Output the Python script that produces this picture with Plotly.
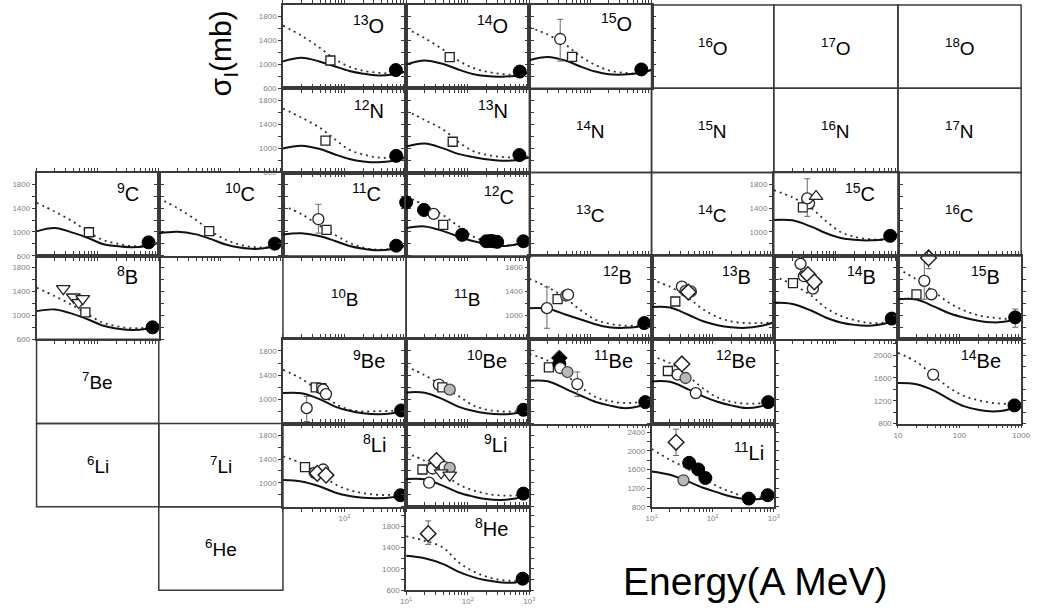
import plotly.graph_objects as go

# ---------------- data ----------------
E_GRID = [10, 20, 40, 70, 120, 200, 350, 600, 1000]

O13_SOLID = [1050, 1110, 1045, 965, 890, 845, 815, 830, 880]
O13_DOT = [1650, 1480, 1275, 1085, 960, 895, 860, 850, 885]
O13_PTS = [(59, 1065, "sq"), (680, 905, "fc")]

O14_SOLID = [1000, 1065, 1005, 915, 840, 805, 795, 810, 860]
O14_DOT = [1600, 1440, 1245, 1065, 945, 880, 840, 830, 865]
O14_PTS = [(51, 1120, "sq"), (700, 880, "fc")]

O15_SOLID = [1070, 1125, 1060, 960, 880, 835, 830, 850, 905]
O15_DOT = [1620, 1500, 1320, 1130, 990, 900, 860, 850, 915]
O15_PTS = [(32, 1425, "oc", 330, 370), (50, 1126, "sq"), (680, 915, "fc")]

N12_SOLID = [1000, 1045, 990, 900, 825, 785, 770, 790, 850]
N12_DOT = [1660, 1510, 1340, 1150, 975, 900, 850, 845, 870]
N12_PTS = [(49, 1130, "sq"), (690, 877, "fc")]

N13_SOLID = [1030, 1080, 1000, 910, 860, 820, 795, 805, 850]
N13_DOT = [1625, 1470, 1310, 1110, 960, 895, 860, 850, 870]
N13_PTS = [(57, 1110, "sq"), (690, 890, "fc")]

C9_SOLID = [1010, 1065, 985, 900, 800, 765, 745, 760, 820]
C9_DOT = [1490, 1340, 1170, 1000, 870, 810, 765, 765, 805]
C9_PTS = [(72, 996, "sq"), (680, 827, "fc")]

C10_SOLID = [980, 1005, 960, 880, 790, 740, 716, 740, 810]
C10_DOT = [1565, 1400, 1200, 1010, 870, 790, 745, 750, 805]
C10_PTS = [(65, 1016, "sq"), (740, 805, "fc")]

C11_SOLID = [960, 978, 930, 850, 765, 720, 694, 715, 775]
C11_DOT = [1440, 1300, 1100, 950, 820, 740, 705, 720, 775]
C11_PTS = [(37.6, 1214, "oc", 250, 232), (51, 1037, "sq"), (690, 771, "fc")]

C12_SOLID = [1065, 1093, 1015, 925, 850, 800, 765, 790, 860]
C12_DOT = [1590, 1450, 1280, 1100, 930, 840, 785, 790, 860]
C12_PTS = [(10, 1496, "fc"), (19.5, 1369, "fc"), (28, 1303, "oc"), (40, 1120, "sq"),
           (81, 953, "fc"), (200, 845, "fc"), (235, 850, "fc"), (258, 845, "fc"),
           (300, 835, "fc"), (800, 845, "fc")]

C15_SOLID = [1203, 1195, 1090, 980, 900, 870, 860, 880, 960]
C15_DOT = [1700, 1580, 1400, 1180, 1000, 920, 880, 880, 960]
C15_PTS = [(37, 1480, "oc"), (29.5, 1414, "sq"), (34.6, 1562, "oc", 330, 300),
           (48, 1595, "tu"), (750, 936, "fc")]

B8_SOLID = [1070, 1098, 1020, 930, 830, 780, 755, 770, 840]
B8_DOT = [1462, 1320, 1160, 1010, 880, 820, 785, 790, 820]
B8_PTS = [(63, 1050, "sq"), (27.4, 1446, "td"), (40, 1307, "td"), (49, 1214, "td"),
          (57, 1280, "td"), (790, 799, "fc")]

B12_SOLID = [1120, 1110, 1010, 930, 850, 800, 790, 810, 870]
B12_DOT = [1613, 1470, 1280, 1080, 930, 860, 827, 830, 855]
B12_PTS = [(19.4, 1120, "oc", 355, 337), (29, 1270, "sq"), (40, 1330, "gc"),
           (43, 1345, "oc"), (760, 870, "fc")]

B13_SOLID = [1138, 1130, 1010, 900, 835, 800, 790, 820, 880]
B13_DOT = [1590, 1480, 1290, 1100, 970, 900, 870, 870, 880]
B13_PTS = [(24.5, 1231, "sq"), (31.4, 1480, "oc"), (36, 1410, "gc"),
           (44, 1400, "gc"), (40, 1390, "dm")]

B14_SOLID = [1214, 1190, 1080, 960, 880, 840, 827, 860, 940]
B14_DOT = [1655, 1520, 1330, 1120, 990, 920, 870, 880, 940]
B14_PTS = [(20.4, 1540, "sq"), (27, 1862, "oc", 140, 210), (30.6, 1655, "oc"),
           (42.7, 1446, "oc"), (35.5, 1683, "dm"), (45, 1560, "dm"), (795, 945, "fc")]

B15_SOLID = [1270, 1265, 1140, 1030, 960, 910, 882, 900, 980]
B15_DOT = [1780, 1600, 1380, 1200, 1080, 1000, 960, 940, 940]
B15_PTS = [(20, 1352, "sq"), (26.8, 1577, "oc", 356, 308), (31.4, 1960, "dm", 180, 180),
           (35, 1352, "oc"), (800, 965, "fc", 140, 165)]

BE9_SOLID = [1104, 1100, 1000, 880, 810, 770, 754, 770, 830]
BE9_DOT = [1490, 1340, 1120, 930, 830, 800, 805, 810, 830]
BE9_PTS = [(24.3, 854, "oc", 194, 221), (34, 1198, "sq"), (42, 1186, "sq"),
           (45, 1160, "oc"), (50, 1087, "oc"), (830, 816, "fc")]

BE10_SOLID = [1115, 1110, 1000, 880, 810, 770, 754, 770, 840]
BE10_DOT = [1545, 1400, 1210, 1060, 905, 830, 800, 800, 840]
BE10_PTS = [(34, 1245, "oc"), (38.7, 1198, "sq"), (51, 1160, "gc"), (800, 827, "fc")]

BE11_SOLID = [1308, 1300, 1170, 1060, 960, 900, 855, 880, 966]
BE11_DOT = [1750, 1640, 1400, 1200, 1040, 975, 940, 950, 985]
BE11_PTS = [(20.9, 1530, "sq"), (31, 1685, "fd"), (31, 1586, "fc"), (32, 1519, "oc"),
            (42, 1452, "gc"), (61, 1253, "oc", 200, 205), (790, 954, "fc")]

BE12_SOLID = [1297, 1290, 1165, 1050, 960, 900, 855, 880, 955]
BE12_DOT = [1712, 1600, 1380, 1180, 1030, 960, 930, 935, 955]
BE12_PTS = [(18.5, 1469, "sq"), (26.7, 1408, "oc"), (36, 1353, "gc", 60, 60),
            (31.4, 1586, "dm"), (53, 1104, "oc"), (810, 954, "fc")]

BE14_SOLID = [1511, 1490, 1370, 1220, 1100, 1040, 1012, 1040, 1150]
BE14_DOT = [2040, 1880, 1620, 1420, 1280, 1210, 1160, 1145, 1140]
BE14_PTS = [(37.3, 1659, "oc", 60, 60), (780, 1118, "fc")]

LI8_SOLID = [1048, 1025, 940, 840, 780, 750, 744, 760, 800]
LI8_DOT = [1446, 1330, 1150, 980, 880, 830, 800, 800, 810]
LI8_PTS = [(22.8, 1264, "sq"), (33, 1170, "oc"), (45, 1225, "oc"), (36, 1160, "dm"),
           (50, 1131, "dm"), (810, 794, "fc")]

LI9_SOLID = [1065, 1062, 950, 840, 775, 730, 716, 740, 800]
LI9_DOT = [1500, 1370, 1160, 980, 880, 820, 790, 790, 810]
LI9_PTS = [(18.4, 1225, "sq"), (23.6, 1004, "oc", 30, 40), (26.8, 1242, "oc"),
           (31, 1375, "dm"), (42, 1264, "oc"), (51, 1253, "gc"), (37, 1170, "td"),
           (51, 1131, "td"), (800, 821, "fc")]

LI11_SOLID = [1561, 1490, 1340, 1210, 1110, 1020, 965, 970, 1020]
LI11_DOT = [2044, 1810, 1610, 1420, 1240, 1120, 1010, 1010, 1020]
LI11_PTS = [(25.2, 2187, "dm", 283, 284), (33.3, 1370, "gc"), (41.3, 1745, "fc"),
            (58, 1604, "fc"), (76, 1419, "fc"), (390, 977, "fc"), (795, 1050, "fc")]

HE8_SOLID = [1246, 1200, 1090, 950, 850, 785, 745, 745, 835]
HE8_DOT = [1615, 1530, 1400, 1130, 960, 855, 790, 775, 800]
HE8_PTS = [(22.8, 1665, "dm", 240, 203), (780, 816, "fc")]

X_TICKS = [10, 20, 30, 40, 50, 60, 70, 80, 90, 100, 200, 300, 400, 500, 600, 700, 800, 900, 1000]
Y_LABELS_STD = [1800, 1400, 1000, 600]
Y_LABELS_TOP3 = [1800, 1400, 1000]
Y_LABELS_BE14 = [2000, 1600, 1200, 800]
Y_LABELS_LI11 = [2400, 2000, 1600, 1200, 800]
X_LABELS_SUP = {10: "10<sup>1</sup>", 100: "10<sup>2</sup>", 1000: "10<sup>3</sup>"}
X_LABELS_MID = {100: "10<sup>2</sup>"}
X_LABELS_PLAIN = {10: "10", 100: "100", 1000: "1000"}

# ---------------- layout geometry ----------------
W, H = 1039, 612
COL_X = [31, 155, 281, 406, 531, 655, 779, 905, 1030]
ROW_Y = [5, 89, 174, 258, 342, 427, 511, 595]
Y_RANGES = {"std": (600, 1995), "be14": (800, 2280), "li11": (800, 2590), "he8": (600, 2170)}

# (mass, element, col, row, solid, dotted, points, yrange, ylabels, xlabels, label_dx, label_dy)
PANELS = [
    ("13", "O", 2, 0, O13_SOLID, O13_DOT, O13_PTS, "std", Y_LABELS_STD, None, 20, 20),
    ("14", "O", 3, 0, O14_SOLID, O14_DOT, O14_PTS, "std", None, None, 20, 20),
    ("15", "O", 4, 0, O15_SOLID, O15_DOT, O15_PTS, "std", None, None, 18, 18),
    ("12", "N", 2, 1, N12_SOLID, N12_DOT, N12_PTS, "std", Y_LABELS_STD, None, 20, 21),
    ("13", "N", 3, 1, N13_SOLID, N13_DOT, N13_PTS, "std", None, None, 20, 21),
    ("9", "C", 0, 2, C9_SOLID, C9_DOT, C9_PTS, "std", Y_LABELS_STD, None, 18, 20),
    ("10", "C", 1, 2, C10_SOLID, C10_DOT, C10_PTS, "std", None, None, 26, 20),
    ("11", "C", 2, 2, C11_SOLID, C11_DOT, C11_PTS, "std", None, None, 23, 20),
    ("12", "C", 3, 2, C12_SOLID, C12_DOT, C12_PTS, "std", None, None, 14, 23),
    ("15", "C", 6, 2, C15_SOLID, C15_DOT, C15_PTS, "std", Y_LABELS_TOP3, None, 21, 20),
    ("8", "B", 0, 3, B8_SOLID, B8_DOT, B8_PTS, "std", Y_LABELS_STD, None, 19, 20),
    ("12", "B", 4, 3, B12_SOLID, B12_DOT, B12_PTS, "std", Y_LABELS_TOP3, None, 18, 20),
    ("13", "B", 5, 3, B13_SOLID, B13_DOT, B13_PTS, "std", None, None, 21, 20),
    ("14", "B", 6, 3, B14_SOLID, B14_DOT, B14_PTS, "std", None, None, 20, 20),
    ("15", "B", 7, 3, B15_SOLID, B15_DOT, B15_PTS, "std", None, None, 19, 20),
    ("9", "Be", 2, 4, BE9_SOLID, BE9_DOT, BE9_PTS, "std", Y_LABELS_TOP3, None, 19, 20),
    ("10", "Be", 3, 4, BE10_SOLID, BE10_DOT, BE10_PTS, "std", None, None, 21, 20),
    ("11", "Be", 4, 4, BE11_SOLID, BE11_DOT, BE11_PTS, "std", None, None, 17, 20),
    ("12", "Be", 5, 4, BE12_SOLID, BE12_DOT, BE12_PTS, "std", None, None, 16, 20),
    ("14", "Be", 7, 4, BE14_SOLID, BE14_DOT, BE14_PTS, "be14", Y_LABELS_BE14, X_LABELS_PLAIN, 18, 20),
    ("8", "Li", 2, 5, LI8_SOLID, LI8_DOT, LI8_PTS, "std", Y_LABELS_TOP3, X_LABELS_MID, 18, 20),
    ("9", "Li", 3, 5, LI9_SOLID, LI9_DOT, LI9_PTS, "std", None, None, 21, 20),
    ("11", "Li", 5, 5, LI11_SOLID, LI11_DOT, LI11_PTS, "li11", Y_LABELS_LI11, X_LABELS_SUP, 8, 28),
    ("8", "He", 3, 6, HE8_SOLID, HE8_DOT, HE8_PTS, "he8", Y_LABELS_STD, X_LABELS_SUP, 20, 21),
]

EMPTY = [
    ("16", "O", 5, 0), ("17", "O", 6, 0), ("18", "O", 7, 0),
    ("14", "N", 4, 1), ("15", "N", 5, 1), ("16", "N", 6, 1), ("17", "N", 7, 1),
    ("13", "C", 4, 2), ("14", "C", 5, 2), ("16", "C", 7, 2),
    ("10", "B", 2, 3), ("11", "B", 3, 3),
    ("7", "Be", 0, 4), ("6", "Li", 0, 5), ("7", "Li", 1, 5), ("6", "He", 1, 6),
]

LC = "#3a3a3a"
FONT = "Liberation Sans, Arial, sans-serif"
TICKFONT = dict(size=8, color="#808080", family=FONT)
MARK = {
    "sq": dict(symbol="square", size=9, color="white", line=dict(color="#222", width=1.3)),
    "oc": dict(symbol="circle", size=11, color="white", line=dict(color="#222", width=1.3)),
    "gc": dict(symbol="circle", size=11, color="#b8b8b8", line=dict(color="#444", width=1.3)),
    "fc": dict(symbol="circle", size=13, color="black", line=dict(color="black", width=1)),
    "dm": dict(symbol="diamond", size=12, color="white", line=dict(color="#222", width=1.5)),
    "fd": dict(symbol="diamond", size=12, color="black", line=dict(color="black", width=1)),
    "tu": dict(symbol="triangle-up", size=12, color="white", line=dict(color="#222", width=1.3)),
    "td": dict(symbol="triangle-down", size=12, color="white", line=dict(color="#222", width=1.3)),
}


def axis_ticks(all_vals, labels):
    """Major ticks carry labels; the rest become minor ticks (no empty texts)."""
    major = [v for v in all_vals if v in labels]
    minor = [v for v in all_vals if v not in labels]
    tick = dict(ticks="outside", ticklen=3, tickwidth=1, tickcolor=LC)
    d = dict(minor=dict(tickmode="array", tickvals=minor, **tick), **tick)
    if major:
        d.update(tickmode="array", tickvals=major, ticktext=[labels[v] for v in major],
                 showticklabels=True, tickfont=TICKFONT)
    else:
        d.update(tickmode="array", tickvals=[], showticklabels=False)
    return d


fig = go.Figure()
layout = dict(width=W, height=H, margin=dict(l=0, r=0, t=0, b=0),
              paper_bgcolor="white", plot_bgcolor="white", showlegend=False)
annotations = []
shapes = []

for k, (mass, elem, col, row, solid, dot, pts, yr, ylab, xlab, ldx, ldy) in enumerate(PANELS, start=1):
    sfx = "" if k == 1 else str(k)
    x0, x1 = COL_X[col], COL_X[col + 1]
    y0, y1 = ROW_Y[row], ROW_Y[row + 1]
    lo, hi = Y_RANGES[yr]
    yt = list(range(lo, int(hi) + 1, 200))
    ylabd = {v: str(v) for v in (ylab or [])}
    xlabd = xlab or {}
    layout["xaxis" + sfx] = dict(
        type="log", range=[1, 3], domain=[x0 / W, x1 / W], anchor="y" + sfx,
        showline=True, mirror="ticks", linecolor=LC, linewidth=1.5,
        showgrid=False, zeroline=False, fixedrange=True, **axis_ticks(X_TICKS, xlabd))
    layout["yaxis" + sfx] = dict(
        range=[lo, hi], domain=[1 - y1 / H, 1 - y0 / H], anchor="x" + sfx,
        showline=True, mirror="ticks", linecolor=LC, linewidth=1.5,
        showgrid=False, zeroline=False, fixedrange=True, **axis_ticks(yt, ylabd))
    xa, ya = "x" + sfx, "y" + sfx
    fig.add_trace(go.Scatter(x=E_GRID, y=dot, mode="lines", xaxis=xa, yaxis=ya,
                             line=dict(color="#333", width=1.8, dash="2px,4px", shape="spline", smoothing=1),
                             cliponaxis=False, hoverinfo="skip"))
    fig.add_trace(go.Scatter(x=E_GRID, y=solid, mode="lines", xaxis=xa, yaxis=ya,
                             line=dict(color="#111", width=2, shape="spline", smoothing=1),
                             cliponaxis=False, hoverinfo="skip"))
    for p in pts:
        e, s, code = p[0], p[1], p[2]
        kw = {}
        if len(p) > 3:
            kw["error_y"] = dict(type="data", symmetric=False, array=[p[3]], arrayminus=[p[4]],
                                 color="#666", thickness=1, width=3)
        fig.add_trace(go.Scatter(x=[e], y=[s], mode="markers", xaxis=xa, yaxis=ya,
                                 marker=MARK[code], cliponaxis=False, hoverinfo="skip", **kw))
    annotations.append(dict(
        text=f"<sup>{mass}</sup>{elem}", xref="paper", yref="paper",
        x=(x1 - ldx) / W, y=1 - (y0 + ldy) / H, xanchor="right", yanchor="middle",
        showarrow=False, font=dict(size=20, color="black", family=FONT)))

for mass, elem, col, row in EMPTY:
    x0, x1 = COL_X[col], COL_X[col + 1]
    y0, y1 = ROW_Y[row], ROW_Y[row + 1]
    shapes.append(dict(type="rect", xref="paper", yref="paper",
                       x0=x0 / W, x1=x1 / W, y0=1 - y1 / H, y1=1 - y0 / H,
                       line=dict(color=LC, width=1.5), fillcolor="rgba(0,0,0,0)"))
    annotations.append(dict(
        text=f"<sup>{mass}</sup>{elem}", xref="paper", yref="paper",
        x=(x0 + x1) / 2 / W, y=1 - (y0 + y1) / 2 / H, xanchor="center", yanchor="middle",
        showarrow=False, font=dict(size=19, color="black", family=FONT)))

annotations.append(dict(text="Energy(A MeV)", xref="paper", yref="paper",
                        x=760 / W, y=1 - 586 / H, xanchor="center", yanchor="middle",
                        showarrow=False, font=dict(size=39, color="black", family=FONT)))
annotations.append(dict(text="σ<sub>I</sub>(mb)", xref="paper", yref="paper",
                        x=220 / W, y=1 - 54 / H, xanchor="center", yanchor="middle",
                        textangle=-90, showarrow=False,
                        font=dict(size=30, color="black", family=FONT)))

layout["annotations"] = annotations
layout["shapes"] = shapes
fig.update_layout(**layout)
fig.write_html("out.html")
